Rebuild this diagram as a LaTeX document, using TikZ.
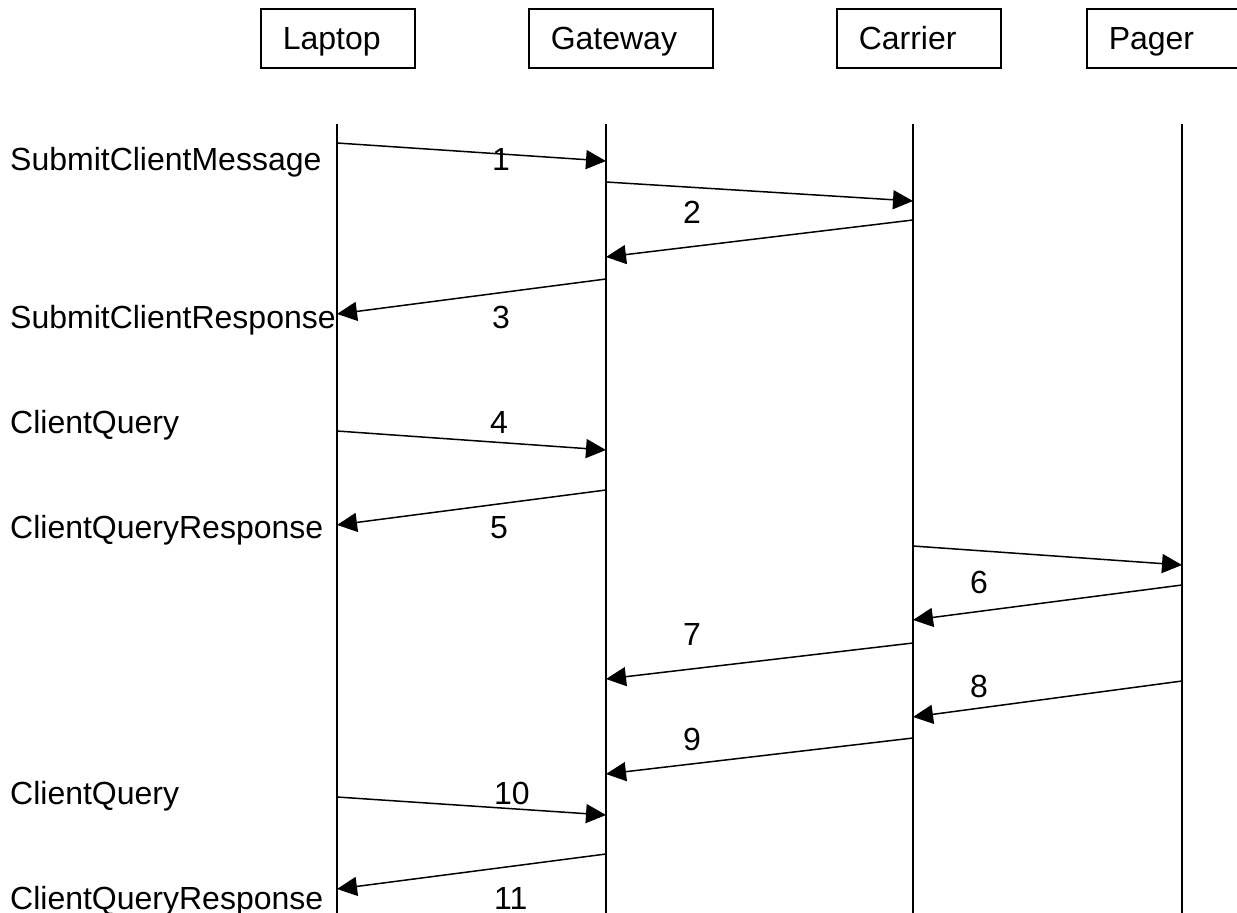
\documentclass[tikz,border=0pt]{standalone}
\usepackage{fontspec}
\setmainfont{Liberation Sans}
\usepackage{tikz}
\usetikzlibrary{arrows.meta}

\tikzset{
  actor/.style={draw, line width=1.5pt, anchor=north west, minimum height=59pt,
    inner xsep=22pt, inner ysep=0pt, text height=23pt, text depth=0pt, align=left},
  life/.style={line width=1.5pt},
  msg/.style={line width=1.5pt, -{Triangle[length=20pt,width=19pt]}},
  num/.style={anchor=base west, inner sep=0pt},
  call/.style={anchor=base west, inner sep=0pt}
}

\begin{document}
\begin{tikzpicture}[x=1pt, y=-1pt, font=\fontsize{32}{38}\selectfont]
    \useasboundingbox (0,0) rectangle (1237,913);
    \clip (0,0) rectangle (1237,913);

    % actors
    \node[actor, text width=110pt] (laptop) at (260,8) {Laptop};
    \node[actor, text width=140pt] (gateway) at (528,8) {Gateway};
    \node[actor, text width=120pt] (carrier) at (836,8) {Carrier};
    \node[actor, text width=120pt] (pager) at (1086,8) {Pager};

    % lifelines
    \coordinate (lapT) at (337,124);
    \coordinate (lapB) at (337,913);
    \coordinate (gateT) at (606,124);
    \coordinate (gateB) at (606,913);
    \coordinate (carT) at (913,124);
    \coordinate (carB) at (913,913);
    \coordinate (pagT) at (1182,124);
    \coordinate (pagB) at (1182,913);

    \draw[life] (lapT) -- (lapB);
    \draw[life] (gateT) -- (gateB);
    \draw[life] (carT) -- (carB);
    \draw[life] (pagT) -- (pagB);

    % calls
    \node[call] (submit) at (10,170) {SubmitClientMessage};
    \node[call] (submitresp) at (10,328) {SubmitClientResponse};
    \node[call] (query) at (10,433) {ClientQuery};
    \node[call] (queryresp) at (10,538) {ClientQueryResponse};
    \node[call] (query2) at (10,804) {ClientQuery};
    \node[call] (queryresp2) at (10,909) {ClientQueryResponse};

    % messages
    \draw[msg] (lapT |- 0,143) -- (gateT |- 0,161);
    \draw[msg] (gateT |- 0,182) -- (carT |- 0,201);
    \draw[msg] (carT |- 0,220) -- (gateT |- 0,257);
    \draw[msg] (gateT |- 0,279) -- (lapT |- 0,314);
    \draw[msg] (lapT |- 0,431) -- (gateT |- 0,450);
    \draw[msg] (gateT |- 0,490) -- (lapT |- 0,525);
    \draw[msg] (carT |- 0,546) -- (pagT |- 0,565);
    \draw[msg] (pagT |- 0,585) -- (carT |- 0,620);
    \draw[msg] (carT |- 0,643) -- (gateT |- 0,679);
    \draw[msg] (pagT |- 0,681) -- (carT |- 0,717);
    \draw[msg] (carT |- 0,738) -- (gateT |- 0,774);
    \draw[msg] (lapT |- 0,797) -- (gateT |- 0,815);
    \draw[msg] (gateT |- 0,854) -- (lapT |- 0,889);

    % numbers
    \node[num] (n1) at (492,170) {1};
    \node[num] (n2) at (683,223) {2};
    \node[num] (n3) at (492,328) {3};
    \node[num] (n4) at (490,433) {4};
    \node[num] (n5) at (490,538) {5};
    \node[num] (n6) at (970,593) {6};
    \node[num] (n7) at (683,645) {7};
    \node[num] (n8) at (970,697) {8};
    \node[num] (n9) at (683,750) {9};
    \node[num] (n10) at (494,804) {10};
    \node[num] (n11) at (494,909) {11};
\end{tikzpicture}
\end{document}
